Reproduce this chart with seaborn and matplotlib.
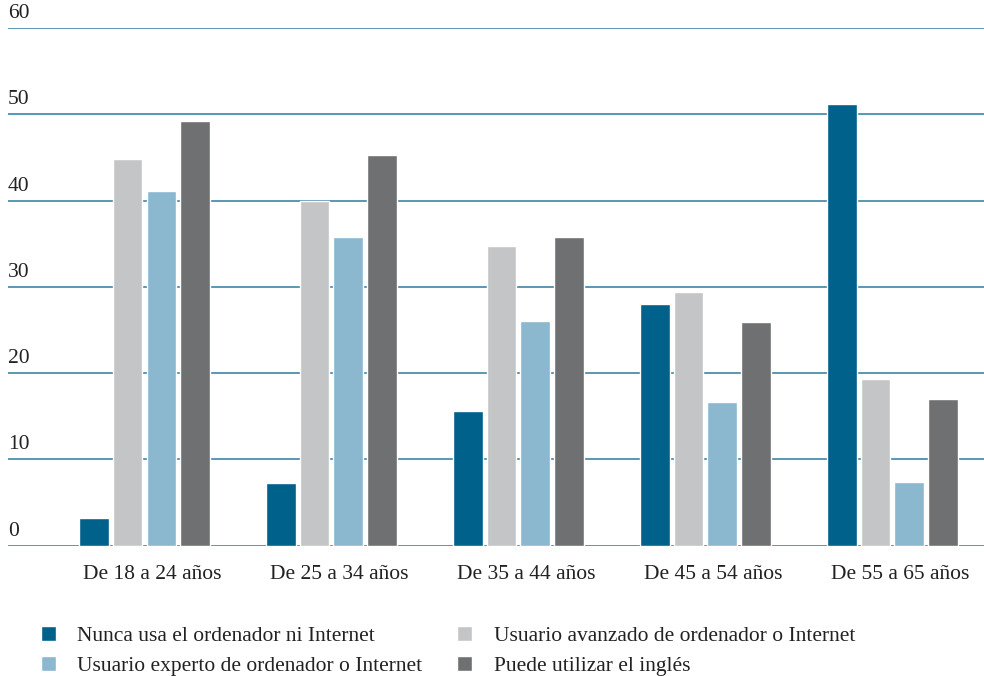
import matplotlib
matplotlib.use("Agg")
import matplotlib.pyplot as plt
import matplotlib.transforms as mtransforms
import seaborn as sns
import pandas as pd

grupos = ["De 18 a 24 años", "De 25 a 34 años", "De 35 a 44 años",
          "De 45 a 54 años", "De 55 a 65 años"]
series = ["Nunca usa el ordenador ni Internet",
          "Usuario avanzado de ordenador o Internet",
          "Usuario experto de ordenador o Internet",
          "Puede utilizar el inglés"]
nunca = [3.2, 7.2, 15.6, 28.0, 51.2]
avanzado = [44.8, 39.9, 34.7, 29.4, 19.3]
experto = [41.1, 35.8, 26.0, 16.6, 7.4]
ingles = [49.2, 45.3, 35.8, 25.9, 17.0]
yticks = [0, 10, 20, 30, 40, 50, 60]

colores = ["#00618a", "#c4c5c7", "#8bb8cf", "#6f7072"]

rows = []
for nombre, vals in zip(series, [nunca, avanzado, experto, ingles]):
    for g, v in zip(grupos, vals):
        rows.append({"grupo": g, "serie": nombre, "valor": v})
df = pd.DataFrame(rows)

sns.set_style("white")
plt.rcParams["font.family"] = ["Liberation Serif", "DejaVu Serif"]

fig = plt.figure(figsize=(9.84, 6.76), dpi=100)
ax = fig.add_axes([8/984, 1 - 545.5/676, 976/984, (545.5 - 28)/676])

sns.barplot(data=df, x="grupo", y="valor", hue="serie", order=grupos,
            hue_order=series, palette=colores, width=0.72, gap=0.12,
            saturation=1, ax=ax)

ax.set_ylim(0, 60)
ax.set_xlim(-0.73, 4.49)
ax.set_yticks(yticks)
ax.set_yticklabels([])
for t in yticks:
    ax.axhline(t, color="#4d8fac", lw=1.3, zorder=0)
    trans = ax.get_yaxis_transform() + mtransforms.ScaledTranslation(0, 3.5/72, fig.dpi_scale_trans)
    ax.text(0, t, str(t), transform=trans, ha="left", va="bottom",
            fontsize=15.5, color="#222222")
ax.tick_params(axis="y", length=0)
ax.tick_params(axis="x", length=0, pad=14, labelsize=15.5, labelcolor="#222222")
for lab in ax.get_xticklabels():
    lab.set_transform(lab.get_transform() + mtransforms.ScaledTranslation(8/100, 0, fig.dpi_scale_trans))
ax.set_xlabel("")
ax.set_ylabel("")
sns.despine(ax=ax, left=True, bottom=True)

handles, labels = ax.get_legend_handles_labels()
ax.get_legend().remove()
orden = [0, 2, 1, 3]
fig.legend([handles[i] for i in orden], [labels[i] for i in orden],
           loc="upper left", bbox_to_anchor=(30/984, 1 - 615/676),
           ncol=2, frameon=False, fontsize=15.5, handlelength=0.7,
           handleheight=0.7, handletextpad=1.0, columnspacing=1.6,
           labelspacing=0.45, borderpad=0, labelcolor="#222222")

fig.savefig("out.png", dpi=100)
